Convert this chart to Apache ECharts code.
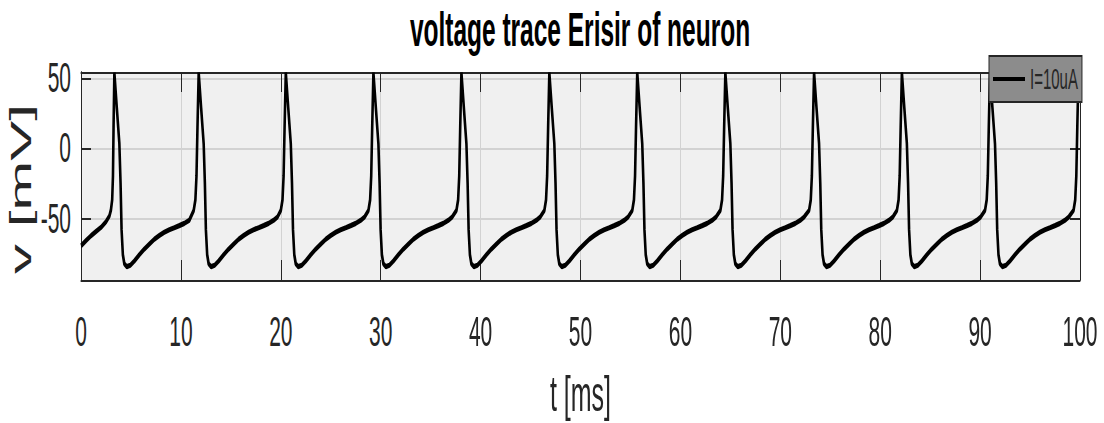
<!DOCTYPE html>
<html>
<head>
<meta charset="utf-8">
<script src="https://cdn.jsdelivr.net/npm/echarts@6/dist/echarts.min.js"></script>
<style>
  html, body { margin: 0; padding: 0; background: #ffffff; overflow: hidden; width: 1104px; height: 423px; }
  /* the reference figure is vertically stretched ~2x; draw at half height and stretch the whole picture */
  #stage { width: 1104px; height: 211.5px; transform: scaleY(2); transform-origin: 0 0; }
</style>
</head>
<body>
<div id="stage"></div>
<script>
// ---- data ----
const titleText = 'voltage trace Erisir of neuron';
const xAxisName = 't [ms]';
const yAxisName = 'v [mV]';
const seriesName = 'I=10uA';
const yTickValues = [-50, 0, 50];

// time (ms), one spike cycle per line
const timeMs = [
  0, 0.5, 1.0, 1.5, 2.0, 2.5, 2.84, 3.0, 3.12, 3.2, 3.26,
  3.34, 3.59, 3.84, 3.96, 4.06, 4.19, 4.34, 4.59, 4.94, 5.34, 5.84, 6.34, 6.84, 7.34, 7.84, 8.34, 8.84, 9.34, 9.84, 10.34, 10.84, 11.28, 11.45, 11.56, 11.66,
  11.78, 12.03, 12.28, 12.40, 12.50, 12.63, 12.78, 13.03, 13.38, 13.78, 14.28, 14.78, 15.28, 15.78, 16.28, 16.78, 17.28, 17.78, 18.28, 18.78, 19.28, 19.68, 20.00, 20.17, 20.28, 20.38,
  20.50, 20.75, 21.00, 21.12, 21.22, 21.35, 21.50, 21.75, 22.10, 22.50, 23.00, 23.50, 24.00, 24.50, 25.00, 25.50, 26.00, 26.50, 27.00, 27.50, 28.00, 28.40, 28.77, 28.94, 29.05, 29.15,
  29.27, 29.52, 29.77, 29.89, 29.99, 30.12, 30.27, 30.52, 30.87, 31.27, 31.77, 32.27, 32.77, 33.27, 33.77, 34.27, 34.77, 35.27, 35.77, 36.27, 36.77, 37.17, 37.58, 37.75, 37.86, 37.96,
  38.08, 38.33, 38.58, 38.70, 38.80, 38.93, 39.08, 39.33, 39.68, 40.08, 40.58, 41.08, 41.58, 42.08, 42.58, 43.08, 43.58, 44.08, 44.58, 45.08, 45.58, 45.98, 46.38, 46.55, 46.66, 46.76,
  46.88, 47.13, 47.38, 47.50, 47.60, 47.73, 47.88, 48.13, 48.48, 48.88, 49.38, 49.88, 50.38, 50.88, 51.38, 51.88, 52.38, 52.88, 53.38, 53.88, 54.38, 54.78, 55.18, 55.35, 55.46, 55.56,
  55.68, 55.93, 56.18, 56.30, 56.40, 56.53, 56.68, 56.93, 57.28, 57.68, 58.18, 58.68, 59.18, 59.68, 60.18, 60.68, 61.18, 61.68, 62.18, 62.68, 63.18, 63.58, 64.00, 64.17, 64.28, 64.38,
  64.50, 64.75, 65.00, 65.12, 65.22, 65.35, 65.50, 65.75, 66.10, 66.50, 67.00, 67.50, 68.00, 68.50, 69.00, 69.50, 70.00, 70.50, 71.00, 71.50, 72.00, 72.40, 72.88, 73.05, 73.16, 73.26,
  73.38, 73.63, 73.88, 74.00, 74.10, 74.23, 74.38, 74.63, 74.98, 75.38, 75.88, 76.38, 76.88, 77.38, 77.88, 78.38, 78.88, 79.38, 79.88, 80.38, 80.88, 81.28, 81.67, 81.84, 81.95, 82.05,
  82.17, 82.42, 82.67, 82.79, 82.89, 83.02, 83.17, 83.42, 83.77, 84.17, 84.67, 85.17, 85.67, 86.17, 86.67, 87.17, 87.67, 88.17, 88.67, 89.17, 89.67, 90.07, 90.49, 90.66, 90.77, 90.87,
  90.99, 91.24, 91.49, 91.61, 91.71, 91.84, 91.99, 92.24, 92.59, 92.99, 93.49, 93.99, 94.49, 94.99, 95.49, 95.99, 96.49, 96.99, 97.49, 97.99, 98.49, 98.89, 99.35, 99.52, 99.63, 99.73,
  99.85, 100
];

// membrane voltage (mV), aligned with timeMs
const voltageMv = [
  -69.7, -66, -62.5, -59.5, -56.6, -52.5, -48.5, -44, -37, -20, 15,
  53.5, 28, 3, -25, -58, -76, -82.5, -84.5, -83.5, -80.5, -76, -72, -68.5, -65, -62.3, -60, -58.2, -56.8, -55.3, -53.7, -51.5, -44.5, -37, -20, 15,
  53.5, 28, 3, -25, -58, -76, -82.5, -84.5, -83.5, -80.5, -76, -72, -68.5, -65, -62.3, -60, -58.2, -56.8, -55.3, -53.7, -51.5, -49, -44.5, -37, -20, 15,
  53.5, 28, 3, -25, -58, -76, -82.5, -84.5, -83.5, -80.5, -76, -72, -68.5, -65, -62.3, -60, -58.2, -56.8, -55.3, -53.7, -51.5, -49, -44.5, -37, -20, 15,
  53.5, 28, 3, -25, -58, -76, -82.5, -84.5, -83.5, -80.5, -76, -72, -68.5, -65, -62.3, -60, -58.2, -56.8, -55.3, -53.7, -51.5, -49, -44.5, -37, -20, 15,
  53.5, 28, 3, -25, -58, -76, -82.5, -84.5, -83.5, -80.5, -76, -72, -68.5, -65, -62.3, -60, -58.2, -56.8, -55.3, -53.7, -51.5, -49, -44.5, -37, -20, 15,
  53.5, 28, 3, -25, -58, -76, -82.5, -84.5, -83.5, -80.5, -76, -72, -68.5, -65, -62.3, -60, -58.2, -56.8, -55.3, -53.7, -51.5, -49, -44.5, -37, -20, 15,
  53.5, 28, 3, -25, -58, -76, -82.5, -84.5, -83.5, -80.5, -76, -72, -68.5, -65, -62.3, -60, -58.2, -56.8, -55.3, -53.7, -51.5, -49, -44.5, -37, -20, 15,
  53.5, 28, 3, -25, -58, -76, -82.5, -84.5, -83.5, -80.5, -76, -72, -68.5, -65, -62.3, -60, -58.2, -56.8, -55.3, -53.7, -51.5, -49, -44.5, -37, -20, 15,
  53.5, 28, 3, -25, -58, -76, -82.5, -84.5, -83.5, -80.5, -76, -72, -68.5, -65, -62.3, -60, -58.2, -56.8, -55.3, -53.7, -51.5, -49, -44.5, -37, -20, 15,
  53.5, 28, 3, -25, -58, -76, -82.5, -84.5, -83.5, -80.5, -76, -72, -68.5, -65, -62.3, -60, -58.2, -56.8, -55.3, -53.7, -51.5, -49, -44.5, -37, -20, 15,
  53.5, 28, 3, -25, -58, -76, -82.5, -84.5, -83.5, -80.5, -76, -72, -68.5, -65, -62.3, -60, -58.2, -56.8, -55.3, -53.7, -51.5, -49, -44.5, -37, -20, 15,
  53.5, 38
];

// ---- chart ----
const FONT = '"Liberation Sans", Arial, Helvetica, sans-serif';
const INK = '#262626';
const GRIDLINE = '#d2d2d2';

const points = timeMs.map((t, i) => [t, voltageMv[i]]);

const boxAxis = {
  axisLine: { show: true, onZero: false, lineStyle: { color: INK, width: 1 } },
  axisTick: { show: true, inside: true, length: 10, lineStyle: { color: INK, width: 1 } }
};

const chart = echarts.init(document.getElementById('stage'), null, { renderer: 'svg', width: 1104, height: 211.5 });

chart.setOption({
  backgroundColor: '#ffffff',
  animation: false,
  title: {
    text: titleText,
    left: 580,
    top: 2,
    padding: 0,
    textAlign: 'center',
    textStyle: { fontFamily: FONT, fontSize: 24.5, fontWeight: 'bold', color: '#000000' }
  },
  legend: {
    data: [{ name: seriesName, icon: 'rect' }],
    left: 989,
    top: 28,
    orient: 'horizontal',
    padding: [4, 4, 4, 4],
    itemWidth: 32,
    itemHeight: 2,
    backgroundColor: '#8c8c8c',
    borderColor: INK,
    borderWidth: 1,
    itemStyle: { color: '#000000', borderWidth: 0 },
    textStyle: { fontFamily: FONT, fontSize: 15, color: INK, lineHeight: 15 },
    selectedMode: false
  },
  grid: {
    left: 81, right: 24, top: 36, height: 104,
    outerBoundsMode: 'none',
    containLabel: false,
    show: true, backgroundColor: '#f0f0f0', borderWidth: 0
  },
  xAxis: [
    Object.assign({
      type: 'value', min: 0, max: 100, interval: 10, position: 'bottom',
      name: xAxisName, nameLocation: 'middle', nameGap: 44, nameMoveOverlap: false,
      nameTextStyle: { fontFamily: FONT, fontSize: 25, color: INK },
      axisLabel: { margin: 15, fontFamily: FONT, fontSize: 21, color: INK },
      splitLine: { show: true, lineStyle: { color: GRIDLINE, width: 1 } }
    }, boxAxis),
    Object.assign({
      type: 'value', min: 0, max: 100, interval: 10, position: 'top',
      axisLabel: { show: false }, splitLine: { show: false }
    }, boxAxis)
  ],
  yAxis: [
    {
      type: 'value', min: -94, max: 54, position: 'left',
      name: yAxisName, nameLocation: 'middle', nameGap: 45, nameRotate: 90, nameMoveOverlap: false,
      nameTextStyle: { fontFamily: FONT, fontSize: 30, color: INK, padding: [0, 13, 0, 0] },
      axisLine: boxAxis.axisLine,
      axisTick: Object.assign({ customValues: yTickValues }, boxAxis.axisTick),
      axisLabel: { customValues: yTickValues, margin: 10, fontFamily: FONT, fontSize: 21, color: INK },
      splitLine: { show: true, lineStyle: { color: GRIDLINE, width: 1 } }
    },
    {
      type: 'value', min: -94, max: 54, position: 'right',
      axisLine: boxAxis.axisLine,
      axisTick: Object.assign({ customValues: yTickValues }, boxAxis.axisTick),
      axisLabel: { show: false },
      splitLine: { show: false }
    }
  ],
  series: [{
    type: 'line',
    name: seriesName,
    xAxisIndex: 0,
    yAxisIndex: 0,
    data: points,
    symbol: 'none',
    clip: true,
    lineStyle: { color: '#000000', width: 2.6 },
    itemStyle: { color: '#000000' },
    z: 3
  }]
});
</script>
</body>
</html>
